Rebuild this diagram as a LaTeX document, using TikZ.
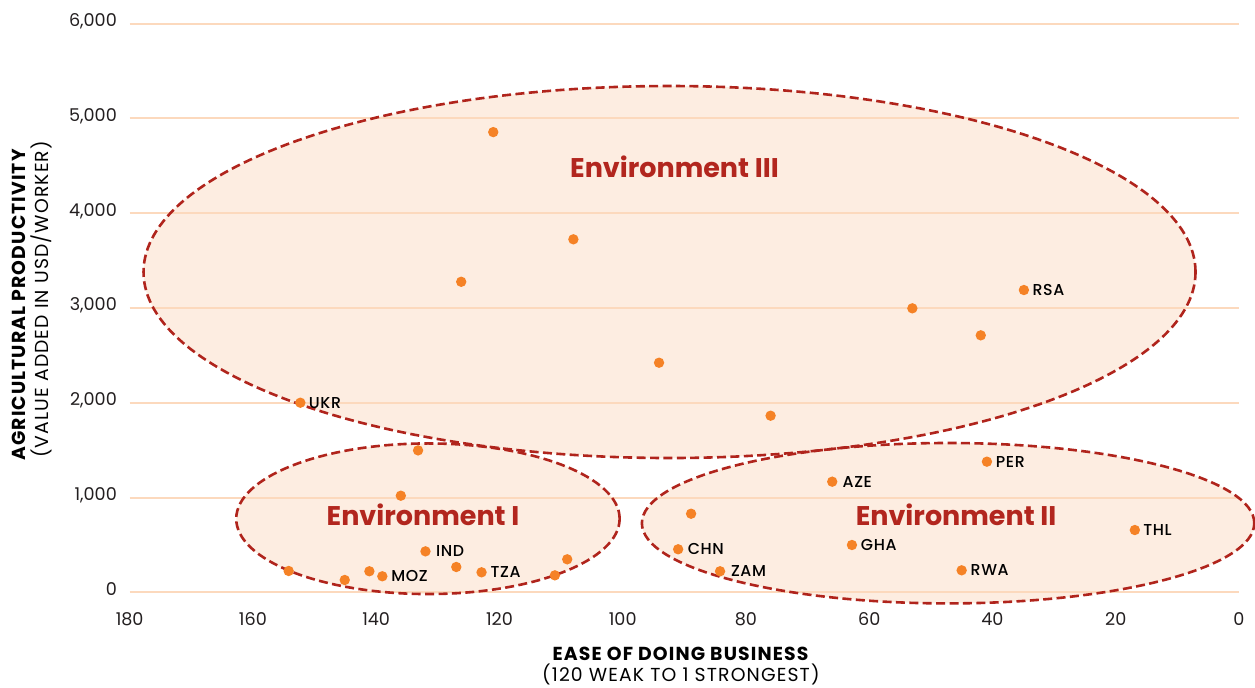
\documentclass[tikz,border=0pt]{standalone}
\usepackage{fontspec}
\setmainfont{Poppins}
\newfontfamily\ctyfont{Poppins Medium}
\usepackage{tikz}
\usetikzlibrary{positioning}
\definecolor{gridpeach}{RGB}{252,217,189}
\definecolor{envfill}{RGB}{253,237,225}
\definecolor{envline}{RGB}{176,36,28}
\definecolor{envtext}{RGB}{178,38,30}
\definecolor{dotorange}{RGB}{245,130,38}
\definecolor{inkgray}{RGB}{35,31,32}

\begin{document}
\begin{tikzpicture}
[x=-3.0815pt,y=0.0474pt,
      datum/.style={circle,fill=dotorange,minimum size=5.2pt,inner sep=0pt},
      cty/.style={font=\ctyfont\fontsize{7.9}{8}\selectfont\addfontfeatures{LetterSpace=4},text=black,inner sep=0pt},
      envbox/.style={fill=envfill},
      envrim/.style={draw=envline,line width=1.3pt,dash pattern=on 4.5pt off 2.2pt},
      envname/.style={font=\fontsize{13.5}{15}\selectfont\bfseries,text=envtext},
      tick/.style={font=\fontsize{8.8}{9}\selectfont,text=inkgray,inner sep=0pt},
      axtitle/.style={font=\fontsize{9.4}{10}\selectfont\addfontfeatures{LetterSpace=6},text=black,inner sep=0pt}]
 \useasboundingbox (-619.5pt,-47.35pt) rectangle (8pt,296.15pt);
 \fill[envbox] (92.4,3379) ellipse [x radius=263pt,y radius=93pt];
 \fill[envbox] (131.6,776) ellipse [x radius=95.85pt,y radius=37.65pt];
 \fill[envbox] (47.2,729) ellipse [x radius=153.1pt,y radius=40.1pt];
 \foreach \v in {0,1000,...,6000}
  \draw[gridpeach,line width=1pt] (180,\v) -- (0,\v);
 \draw[envrim] (92.4,3379) ellipse [x radius=263pt,y radius=93pt];
 \draw[envrim] (131.6,776) ellipse [x radius=95.85pt,y radius=37.65pt];
 \draw[envrim] (47.2,729) ellipse [x radius=153.1pt,y radius=40.1pt];
 \foreach \v/\t in {0/0,1000/{1,000},2000/{2,000},3000/{3,000},4000/{4,000},5000/{5,000},6000/{6,000}}
  \node[tick,anchor=base east,xshift=-6.2pt,yshift=-1.5pt] (y\v) at (180,\v) {\t};
 \foreach \v in {180,160,...,0}
  \node[tick,anchor=base,yshift=-16.45pt] (x\v) at (\v,0) {\v};
 \node[axtitle,anchor=base] (xtitle) at (-279.25pt,-34.2pt) {\bfseries EASE OF DOING BUSINESS};
 \node[axtitle,anchor=base] (xsub) at (-279.05pt,-44.35pt) {(120 WEAK TO 1 STRONGEST)};
 \node[axtitle,anchor=base,rotate=90] (ytitle) at (-606.5pt,143.65pt) {\bfseries AGRICULTURAL PRODUCTIVITY};
 \node[axtitle,anchor=base,rotate=90] (ysub) at (-595.25pt,146.4pt) {(VALUE ADDED IN USD/WORKER)};
 \node[envname] (env3) at (91.6,4486) {Environment III};
 \node[envname] (env1) at (132.4,815) {Environment I};
 \node[envname] (env2) at (45.9,813) {Environment II};
 \node[datum] (a1) at (121,4855) {};
 \node[datum] (a2) at (108,3724) {};
 \node[datum] (a3) at (126.2,3276) {};
 \node[datum] (a4) at (53,2996) {};
 \node[datum] (a5) at (41.9,2711) {};
 \node[datum] (rsa) at (34.9,3189) {};
 \node[datum] (a6) at (94.1,2422) {};
 \node[datum] (a7) at (76,1863) {};
 \node[datum] (ukr) at (152.3,2000) {};
 \node[datum] (b1) at (133.2,1497) {};
 \node[datum] (b2) at (136,1019) {};
 \node[datum] (b3) at (154.2,225) {};
 \node[datum] (b4) at (145.1,130) {};
 \node[datum] (b5) at (141.1,222) {};
 \node[datum] (moz) at (139,169) {};
 \node[datum] (ind) at (132,432) {};
 \node[datum] (b6) at (127,267) {};
 \node[datum] (tza) at (122.9,211) {};
 \node[datum] (b7) at (111,179) {};
 \node[datum] (b8) at (109,348) {};
 \node[datum] (c1) at (88.9,829) {};
 \node[datum] (chn) at (91,454) {};
 \node[datum] (zam) at (84.2,222) {};
 \node[datum] (aze) at (66,1167) {};
 \node[datum] (gha) at (62.8,499) {};
 \node[datum] (per) at (40.9,1378) {};
 \node[datum] (rwa) at (45,232) {};
 \node[datum] (thl) at (16.9,657) {};
 \node[cty,right=1.3pt of rsa] (rsa-t) {RSA};
 \node[cty,right=1.3pt of ukr] (ukr-t) {UKR};
 \node[cty,right=1.5pt of moz] (moz-t) {MOZ};
 \node[cty,right=2.3pt of ind] (ind-t) {IND};
 \node[cty,right=1.5pt of tza] (tza-t) {TZA};
 \node[cty,right=1.8pt of chn] (chn-t) {CHN};
 \node[cty,right=2.5pt of zam] (zam-t) {ZAM};
 \node[cty,right=2.2pt of aze] (aze-t) {AZE};
 \node[cty,right=1.5pt of gha] (gha-t) {GHA};
 \node[cty,right=1.5pt of per] (per-t) {PER};
 \node[cty,right=1.5pt of rwa] (rwa-t) {RWA};
 \node[cty,right=1.3pt of thl] (thl-t) {THL};
\end{tikzpicture}
\end{document}
